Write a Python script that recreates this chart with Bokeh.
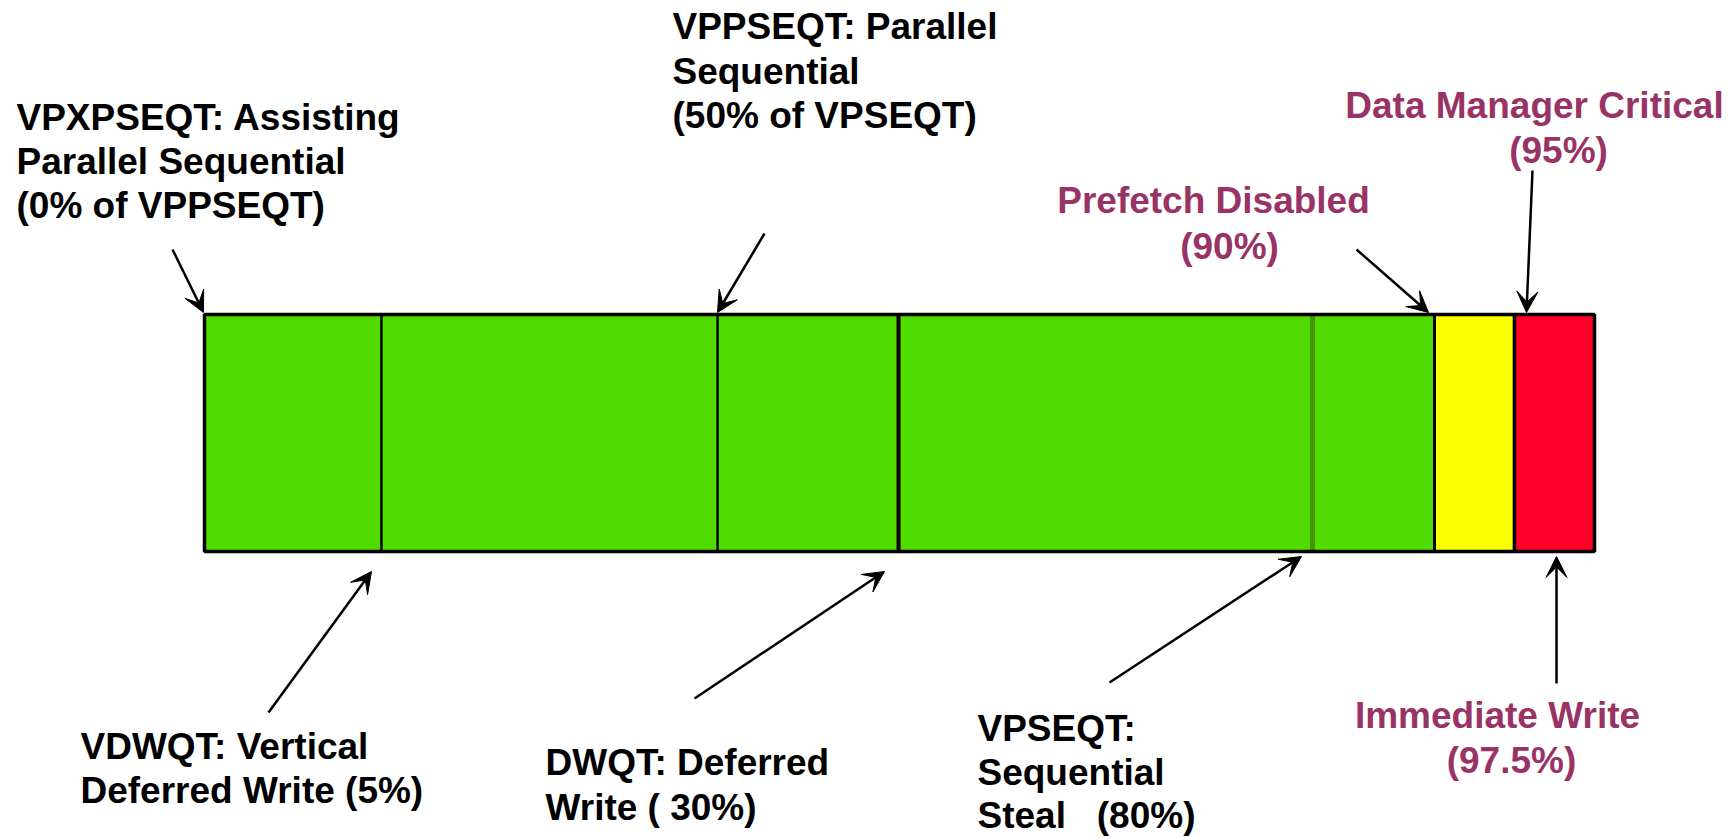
from bokeh.plotting import figure
from bokeh.models import ColumnDataSource, Range1d, Arrow, VeeHead
from bokeh.core.properties import value
from bokeh.embed import file_html
from bokeh.resources import INLINE

# ---------------- data (schematic positions along the bar, 0..100) ----------------
segment_starts = [0, 12.73, 36.91, 49.93, 79.71, 88.49, 94.24]
segment_ends = [12.73, 36.91, 49.93, 79.71, 88.49, 94.24, 100]
segment_zone = ["ok", "ok", "ok", "ok", "ok", "warn", "crit"]
divider_positions = [12.73, 36.91, 49.93, 79.71, 88.49, 94.24]
divider_names = ["VDWQT", "VPPSEQT", "DWQT", "VPSEQT", "Prefetch", "DMC"]

black_lines = [
    "VPXPSEQT: Assisting", "Parallel Sequential", "(0% of VPPSEQT)",
    "VPPSEQT: Parallel", "Sequential", "(50% of VPSEQT)",
    "VDWQT: Vertical", "Deferred Write (5%)",
    "DWQT: Deferred", "Write ( 30%)",
    "VPSEQT:", "Sequential", "Steal\u00a0\u00a0\u00a0(80%)",
]
red_lines = [
    "Prefetch Disabled", "(90%)",
    "Data Manager Critical", "(95%)",
    "Immediate Write", "(97.5%)",
]

# ---------------- layout ----------------
W, H = 1733, 838
OFF = 0
BAR_L, BAR_R, BAR_T, BAR_B = 204, 1594, 314, 551   # page pixels
sx = (BAR_R - BAR_L) / 100.0
sy = float(BAR_B - BAR_T)
x0 = -(BAR_L - OFF) / sx
y1 = 1 + (BAR_T - OFF) / sy
TXT_DY = -13   # text baseline correction


def px(X):
    return (X - BAR_L) / sx


def py(Y):
    return (BAR_B - Y) / sy


zone_colors = {"ok": "#50DC00", "warn": "#FAFF00", "crit": "#FF0028"}
divider_style = {
    "VDWQT": ("black", 2.5), "VPPSEQT": ("black", 2.5), "DWQT": ("black", 4),
    "VPSEQT": ("#469600", 5), "Prefetch": ("black", 3), "DMC": ("black", 3.5),
}

p = figure(width=W, height=H, output_backend="svg", toolbar_location=None,
           x_range=Range1d(x0, x0 + W / sx), y_range=Range1d(y1 - H / sy, y1),
           x_axis_location=None, y_axis_location=None, min_border=0,
           background_fill_color="white", border_fill_color="white")
p.grid.visible = False
p.outline_line_color = None

seg = ColumnDataSource(dict(
    left=segment_starts, right=segment_ends,
    bottom=[0] * len(segment_starts), top=[1] * len(segment_starts),
    color=[zone_colors[z] for z in segment_zone]))
p.quad(left="left", right="right", bottom="bottom", top="top",
       fill_color="color", line_color=None, source=seg)

div = ColumnDataSource(dict(
    x=divider_positions, y0=[0] * len(divider_positions), y1=[1] * len(divider_positions),
    color=[divider_style[n][0] for n in divider_names],
    lw=[divider_style[n][1] for n in divider_names]))
p.segment(x0="x", y0="y0", x1="x", y1="y1", line_color="color", line_width="lw", source=div)

p.quad(left=[segment_starts[0]], right=[segment_ends[-1]], bottom=[0], top=[1],
       fill_color=None, line_color="black", line_width=3.5)

# text positions (page pixels) for each line
black_xy = [
    (16, 130), (16, 174), (16, 218),
    (672, 39), (672, 83.5), (672, 128),
    (80, 759), (80, 803),
    (545, 775), (545, 820),
    (977, 741), (977, 785), (977, 828),
]
red_xy = [
    (1213, 213), (1229, 259),
    (1534, 118), (1558, 163),
    (1497, 728), (1511, 773),
]
font = value("Liberation Sans")
tb = ColumnDataSource(dict(x=[px(a) for a, b in black_xy], y=[py(b + TXT_DY) for a, b in black_xy], t=black_lines))
p.text(x="x", y="y", text="t", source=tb, text_font=font, text_font_style="bold",
       text_font_size="37px", text_color="black", text_align="left", text_baseline="alphabetic")
tr = ColumnDataSource(dict(x=[px(a) for a, b in red_xy], y=[py(b + TXT_DY) for a, b in red_xy], t=red_lines))
p.text(x="x", y="y", text="t", source=tr, text_font=font, text_font_style="bold",
       text_font_size="37px", text_color="#993366", text_align="center", text_baseline="alphabetic")

arrows = [
    ((172, 249), (203, 312)),
    ((764, 233), (717, 312)),
    ((1356, 249), (1428, 312)),
    ((1532, 170), (1526, 312)),
    ((268, 712), (371, 571)),
    ((694, 698), (884, 571)),
    ((1109, 682), (1301, 556)),
    ((1556, 683), (1556, 556)),
]
for (xs, ys), (xe, ye) in arrows:
    p.add_layout(Arrow(end=VeeHead(size=21, fill_color="black", line_color="black", line_width=1),
                       x_start=px(xs), y_start=py(ys), x_end=px(xe), y_end=py(ye),
                       line_color="black", line_width=2.5))

open("out.html", "w").write(file_html(p, INLINE))
